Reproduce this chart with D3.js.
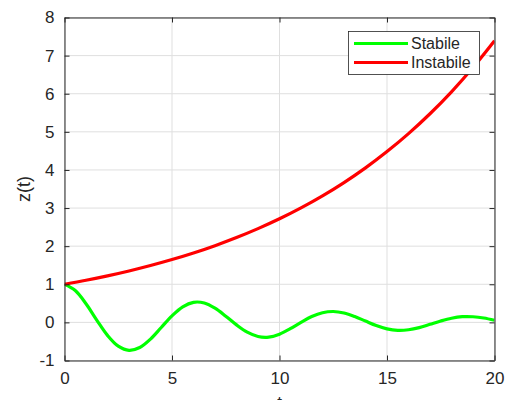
<!DOCTYPE html>
<html><head><meta charset="utf-8">
<script src="https://cdn.jsdelivr.net/npm/d3@7"></script>
<style>body{margin:0;background:#fff;}svg{display:block;font-family:"Liberation Sans",Arial,sans-serif;}</style>
</head><body>
<script>
const tStable = d3.range(0, 20.001, 0.5);
const zStable = [1,0.835,0.489,0.061,-0.341,-0.624,-0.733,-0.660,-0.438,-0.134,0.172,0.409,0.527,0.510,0.374,0.164,-0.065,-0.257,-0.370,-0.386,-0.309,-0.166,0.001,0.153,0.254,0.286,0.247,0.154,0.034,-0.083,-0.170,-0.208,-0.193,-0.137,-0.050,0.037,0.109,0.150,0.148,0.115,0.055];
const tUnstable = d3.range(0, 20.001, 1);
const zUnstable = [1,1.105,1.221,1.350,1.492,1.649,1.822,2.014,2.226,2.460,2.718,3.004,3.320,3.669,4.055,4.482,4.953,5.474,6.050,6.686,7.389];
const xTicks = [0,5,10,15,20];
const yTicks = [-1,0,1,2,3,4,5,6,7,8];
const seriesNames = ["Stabile","Instabile"];
const seriesColors = ["#00ff00","#ff0000"];

const W=511,H=400, L=64.5, R=494.5, T=17.5, B=360.5;
const svg=d3.select("body").append("svg").attr("width",W).attr("height",H);
const x=d3.scaleLinear().domain([0,20]).range([L,R]);
const y=d3.scaleLinear().domain([-1,8]).range([B,T]);
const ink="#262626";

// grid
svg.append("g").selectAll("line.gx").data(xTicks).join("line")
  .attr("x1",d=>x(d)).attr("x2",d=>x(d)).attr("y1",T).attr("y2",B)
  .attr("stroke","#dfdfdf").attr("stroke-width",1);
svg.append("g").selectAll("line.gy").data(yTicks).join("line")
  .attr("y1",d=>y(d)).attr("y2",d=>y(d)).attr("x1",L).attr("x2",R)
  .attr("stroke","#dfdfdf").attr("stroke-width",1);

// lines
svg.append("clipPath").attr("id","c").append("rect").attr("x",L).attr("y",T).attr("width",R-L).attr("height",B-T);
const line=d3.line().x(d=>x(d[0])).y(d=>y(d[1])).curve(d3.curveCatmullRom.alpha(0.5));
const g=svg.append("g").attr("clip-path","url(#c)");
g.append("path").datum(tStable.map((t,i)=>[t,zStable[i]])).attr("d",line)
  .attr("fill","none").attr("stroke",seriesColors[0]).attr("stroke-width",3.2);
g.append("path").datum(tUnstable.map((t,i)=>[t,zUnstable[i]])).attr("d",line)
  .attr("fill","none").attr("stroke",seriesColors[1]).attr("stroke-width",3.2);

// axes
const tk=5;
const fmt=d=>String(d);
const ax=svg.append("g").attr("transform",`translate(0,${B})`)
  .call(d3.axisBottom(x).tickValues(xTicks).tickFormat(fmt).tickSizeInner(-tk).tickSizeOuter(0).tickPadding(11));
const axTop=svg.append("g").attr("transform",`translate(0,${T})`)
  .call(d3.axisTop(x).tickValues(xTicks).tickSizeInner(-tk).tickSizeOuter(0).tickFormat(""));
const ay=svg.append("g").attr("transform",`translate(${L},0)`)
  .call(d3.axisLeft(y).tickValues(yTicks).tickFormat(fmt).tickSizeInner(-tk).tickSizeOuter(0).tickPadding(10));
const ayR=svg.append("g").attr("transform",`translate(${R},0)`)
  .call(d3.axisRight(y).tickValues(yTicks).tickSizeInner(-tk).tickSizeOuter(0).tickFormat(""));
[ax,axTop,ay,ayR].forEach(a=>{
  a.selectAll("path").attr("stroke",ink);
  a.selectAll("line").attr("stroke",ink);
  a.selectAll("text").attr("fill",ink).style("font-size","17px").style("font-family","'Liberation Sans',Arial,sans-serif");
});

// labels
svg.append("text").attr("x",(L+R)/2).attr("y",408).attr("text-anchor","middle")
  .attr("fill",ink).style("font-size","17px").text("t");
svg.append("text").attr("transform",`translate(30,${(T+B)/2}) rotate(-90)`).attr("text-anchor","middle")
  .attr("fill",ink).style("font-size","18px").text("z(t)");

// legend
const lg=svg.append("g");
lg.append("rect").attr("x",348.5).attr("y",31.5).attr("width",131).attr("height",43)
  .attr("fill","#fff").attr("stroke","#262626").attr("stroke-width",0.8);
seriesNames.forEach((n,i)=>{
  const yy=43.5+i*19;
  lg.append("line").attr("x1",354).attr("x2",408).attr("y1",yy).attr("y2",yy)
    .attr("stroke",seriesColors[i]).attr("stroke-width",3.2);
  lg.append("text").attr("x",411).attr("y",yy+5.5).attr("fill",ink).style("font-size","16px").text(n);
});
</script>
</body></html>
